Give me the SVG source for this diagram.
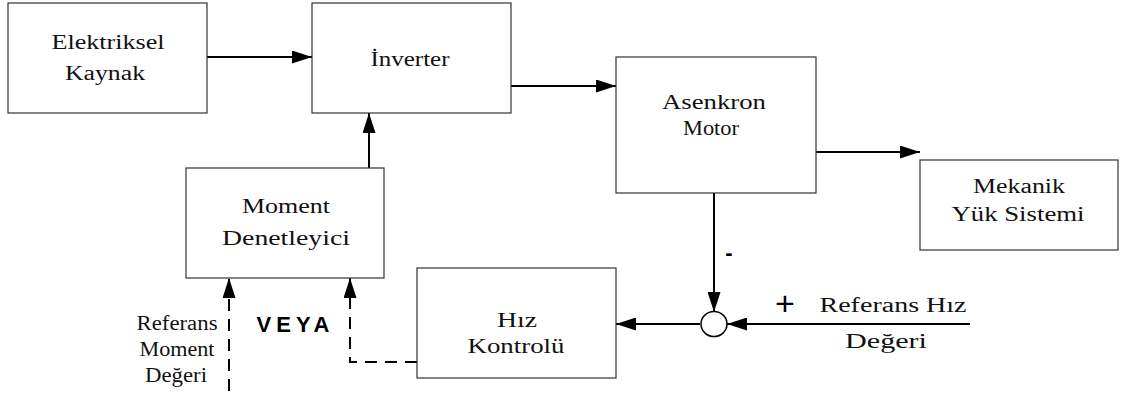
<svg xmlns="http://www.w3.org/2000/svg" width="1121" height="398" viewBox="0 0 1121 398">
<defs>
<style>
.box{fill:#fff;stroke:#333;stroke-width:1.2}
.t{font-family:"Liberation Serif","Times New Roman",serif;font-size:20px;fill:#111;text-anchor:middle}
.c{fill:none;stroke:#000;stroke-width:2}
.d{fill:none;stroke:#000;stroke-width:2;stroke-dasharray:12 8}
</style>
<marker id="ah" markerUnits="userSpaceOnUse" markerWidth="20" markerHeight="13" refX="20" refY="6.5" orient="auto">
<path d="M0,0 L20,6.5 L0,13 z" fill="#000"/>
</marker>
</defs>
<rect width="1121" height="398" fill="#fff"/>
<g id="connectors">
<line class="c" x1="207" y1="57" x2="312" y2="57" marker-end="url(#ah)"/>
<line class="c" x1="511" y1="86" x2="616" y2="86" marker-end="url(#ah)"/>
<line class="c" x1="816" y1="152" x2="920" y2="152" marker-end="url(#ah)"/>
<line class="c" x1="369" y1="168" x2="369" y2="113" marker-end="url(#ah)"/>
<line class="c" x1="714" y1="193" x2="714" y2="312" marker-end="url(#ah)"/>
<line class="c" x1="700" y1="324" x2="616" y2="324" marker-end="url(#ah)"/>
<line class="c" x1="970" y1="324" x2="727" y2="324" marker-end="url(#ah)"/>
<line class="d" x1="229" y1="391" x2="229" y2="278" marker-end="url(#ah)"/>
<polyline class="d" points="417,362 350,362 350,278" marker-end="url(#ah)"/>
<ellipse cx="714" cy="324" rx="13" ry="12.5" fill="#fff" stroke="#000" stroke-width="1.5"/>
<text x="785" y="315" font-family="Liberation Sans, Arial, sans-serif" font-size="34" text-anchor="middle">+</text>
<text x="729" y="260" font-family="Liberation Sans, Arial, sans-serif" font-size="22" font-weight="bold" text-anchor="middle">-</text>
</g>
<g id="elektriksel-kaynak">
<rect class="box" x="8" y="3" width="199" height="110"/>
<text class="t" x="108" y="49" textLength="113" lengthAdjust="spacingAndGlyphs">Elektriksel</text>
<text class="t" x="105" y="80" textLength="80" lengthAdjust="spacingAndGlyphs">Kaynak</text>
</g>
<g id="inverter">
<rect class="box" x="312" y="3" width="199" height="110"/>
<text class="t" x="410" y="66" textLength="79" lengthAdjust="spacingAndGlyphs">İnverter</text>
</g>
<g id="asenkron-motor">
<rect class="box" x="616" y="57" width="200" height="136"/>
<text class="t" x="714" y="109" textLength="104" lengthAdjust="spacingAndGlyphs">Asenkron</text>
<text class="t" x="711" y="135" textLength="56" lengthAdjust="spacingAndGlyphs">Motor</text>
</g>
<g id="mekanik-yuk-sistemi">
<rect class="box" x="920" y="160" width="198" height="90"/>
<text class="t" x="1019" y="193" textLength="92" lengthAdjust="spacingAndGlyphs">Mekanik</text>
<text class="t" x="1018" y="221" textLength="133" lengthAdjust="spacingAndGlyphs">Yük Sistemi</text>
</g>
<g id="moment-denetleyici">
<rect class="box" x="186" y="168" width="198" height="110"/>
<text class="t" x="286" y="213" textLength="88" lengthAdjust="spacingAndGlyphs">Moment</text>
<text class="t" x="286" y="245" textLength="128" lengthAdjust="spacingAndGlyphs">Denetleyici</text>
</g>
<g id="hiz-kontrolu">
<rect class="box" x="417" y="268" width="199" height="110"/>
<text class="t" x="517" y="327" textLength="40" lengthAdjust="spacingAndGlyphs">Hız</text>
<text class="t" x="516" y="353" textLength="97" lengthAdjust="spacingAndGlyphs">Kontrolü</text>
</g>
<g id="referans-moment">
<text class="t" x="177" y="330" textLength="81" lengthAdjust="spacingAndGlyphs">Referans</text>
<text class="t" x="177" y="356" textLength="75" lengthAdjust="spacingAndGlyphs">Moment</text>
<text class="t" x="176" y="382" textLength="62" lengthAdjust="spacingAndGlyphs">Değeri</text>
</g>
<g id="veya">
<text x="293" y="332" font-family="Liberation Sans, Arial, sans-serif" font-size="22" font-weight="bold" text-anchor="middle" textLength="73" lengthAdjust="spacing">VEYA</text>
</g>
<g id="referans-hiz">
<text class="t" x="893" y="312" textLength="147" lengthAdjust="spacingAndGlyphs">Referans Hız</text>
<text class="t" x="886" y="348" textLength="82" lengthAdjust="spacingAndGlyphs">Değeri</text>
</g>
</svg>
